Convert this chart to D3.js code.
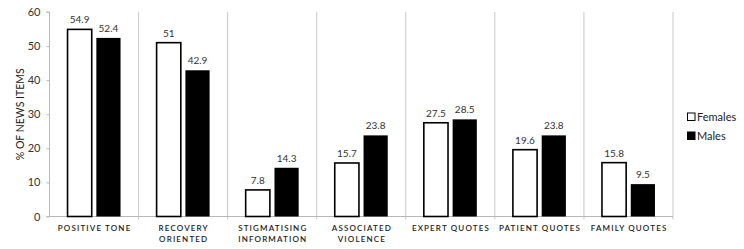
<!DOCTYPE html>
<html><head><meta charset="utf-8">
<script src="https://cdn.jsdelivr.net/npm/d3@7"></script>
<style>
body{margin:0;background:#fff;}
svg{display:block;font-family:Lato,"Open Sans",sans-serif;}
</style></head>
<body><svg id="c" width="744" height="249"></svg>
<script>
const categories = [["POSITIVE TONE"],["RECOVERY","ORIENTED"],["STIGMATISING","INFORMATION"],["ASSOCIATED","VIOLENCE"],["EXPERT QUOTES"],["PATIENT QUOTES"],["FAMILY QUOTES"]];
const females = [54.9, 51, 7.8, 15.7, 27.5, 19.6, 15.8];
const males = [52.4, 42.9, 14.3, 23.8, 28.5, 23.8, 9.5];
const femaleLabels = ["54.9","51","7.8","15.7","27.5","19.6","15.8"];
const maleLabels = ["52.4","42.9","14.3","23.8","28.5","23.8","9.5"];
const yTicks = [0,10,20,30,40,50,60];
const seriesNames = ["Females","Males"];

(function(){
const svg = d3.select("#c");
const mLeft = 49.5, mRight = 673, mTop = 12, mBottom = 216.5;
const idx = d3.range(categories.length);
const x = d3.scaleBand().domain(idx).range([mLeft, mRight]).paddingInner(0).paddingOuter(0);
const y = d3.scaleLinear().domain([0,60]).range([mBottom, mTop]);
const sub = d3.scaleBand().domain([0,1]).range([0, 53]).paddingInner(0.16);
const groupOff = (x.bandwidth() - 53) / 2;

// separators
svg.append("g").selectAll("line").data(d3.range(1, categories.length + 1)).join("line")
  .attr("x1", i => (i < categories.length ? x(i) : mRight)).attr("x2", i => (i < categories.length ? x(i) : mRight))
  .attr("y1", mTop).attr("y2", mBottom + 3)
  .attr("stroke", "#c8c8c8").attr("stroke-width", 1);

// y axis
const yAxis = d3.axisLeft(y).tickValues(yTicks).tickSize(3).tickPadding(6);
const ya = svg.append("g").attr("transform", `translate(${mLeft},0)`).call(yAxis);
ya.select(".domain").attr("stroke", "#b8b8b8").attr("d", `M-3,${mTop}H0V${mBottom}H-3`);
ya.selectAll(".tick line").attr("stroke", "#b8b8b8");
ya.selectAll(".tick text").attr("fill", "#333").style("font-size", "11px").style("font-family", "Lato,'Open Sans',sans-serif");

// x axis line
svg.append("line").attr("x1", mLeft).attr("x2", mRight).attr("y1", mBottom).attr("y2", mBottom)
  .attr("stroke", "#b8b8b8");

// bars
const bars = svg.append("g");
bars.selectAll("rect.f").data(idx).join("rect").attr("class","f")
  .attr("x", i => x(i) + groupOff + sub(0)).attr("width", sub.bandwidth())
  .attr("y", i => y(females[i])).attr("height", i => y(0) - y(females[i]))
  .attr("fill", "#fff").attr("stroke", "#000").attr("stroke-width", 1.6);
bars.selectAll("rect.m").data(idx).join("rect").attr("class","m")
  .attr("x", i => x(i) + groupOff + sub(1)).attr("width", sub.bandwidth())
  .attr("y", i => y(males[i])).attr("height", i => y(0) - y(males[i]))
  .attr("fill", "#000");

// value labels
const lab = svg.append("g").style("font-size", "10px").attr("fill", "#333").attr("text-anchor", "middle");
lab.selectAll("text.f").data(idx).join("text").attr("class","f")
  .attr("x", i => x(i) + groupOff + sub(0) + sub.bandwidth()/2)
  .attr("y", i => y(females[i]) - 6).text(i => femaleLabels[i]);
lab.selectAll("text.m").data(idx).join("text").attr("class","m")
  .attr("x", i => x(i) + groupOff + sub(1) + sub.bandwidth()/2)
  .attr("y", i => y(males[i]) - 6).text(i => maleLabels[i]);

// category labels
const cl = svg.append("g").style("font-size", "8px").attr("fill", "#222").attr("text-anchor", "middle")
  .style("letter-spacing", "1.15px").style("font-weight", "600");
idx.forEach(i => {
  categories[i].forEach((line, k) => {
    cl.append("text").attr("x", x(i) + x.bandwidth()/2 + 0.6).attr("y", 231 + k*10.5).text(line);
  });
});

// y title
svg.append("text").attr("transform", `translate(24,${(mTop+mBottom)/2}) rotate(-90)`)
  .attr("text-anchor", "middle").style("font-size", "10.5px").attr("fill", "#222").text("% OF NEWS ITEMS");

// legend
const lg = svg.append("g").attr("transform", "translate(687,0)");
seriesNames.forEach((n, k) => {
  lg.append("rect").attr("x", 0.5).attr("y", 113 + k*19).attr("width", 7.5).attr("height", 7.5)
    .attr("fill", k === 0 ? "#fff" : "#000").attr("stroke", "#000").attr("stroke-width", 1);
  lg.append("text").attr("x", 10).attr("y", 121 + k*19).style("font-size", "11px").attr("fill", "#222").text(n);
});
})();
</script></body></html>
